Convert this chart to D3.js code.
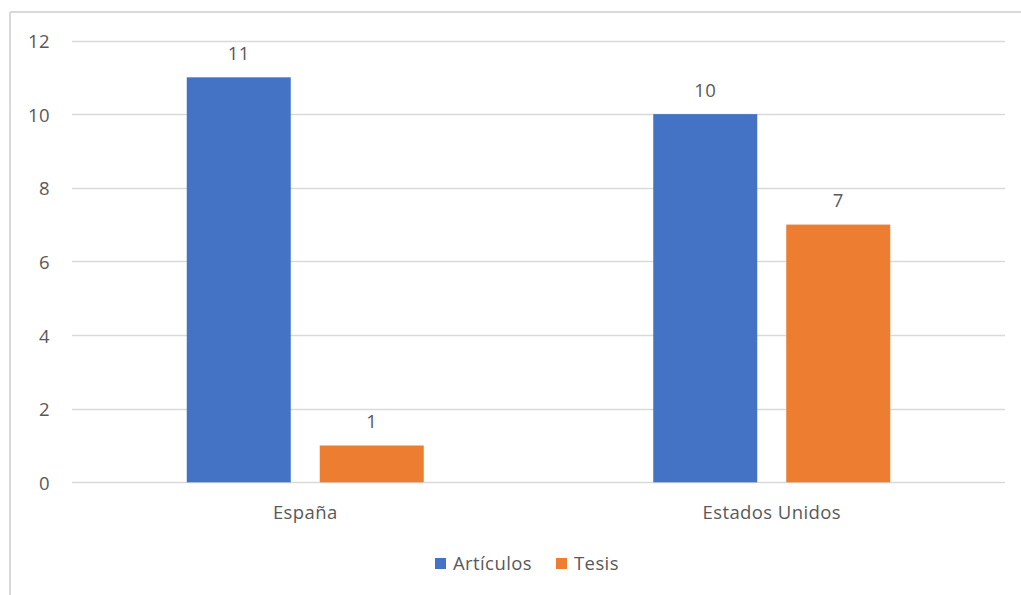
<!DOCTYPE html>
<html><head><meta charset="utf-8">
<script src="https://cdn.jsdelivr.net/npm/d3@7"></script>
<style>body{margin:0;background:#fff}svg{display:block}text{font-family:"Open Sans","Noto Sans",sans-serif;fill:#595959;letter-spacing:0.4px}</style>
</head><body>
<script>
const categories = ["España", "Estados Unidos"];
const seriesNames = ["Artículos", "Tesis"];
const articulos = [11, 10];
const tesis = [1, 7];
const yTicks = [0, 2, 4, 6, 8, 10, 12];
const colors = ["#4472C4", "#ED7D31"];

(function(){
const W = 1021, H = 595;
const FS = 18.5;
const svg = d3.select("body").append("svg").attr("width", W).attr("height", H);

// frame (left & top edges visible)
svg.append("line").attr("x1",10).attr("x2",10).attr("y1",12).attr("y2",H).attr("stroke","#d9d9d9").attr("stroke-width",2);
svg.append("line").attr("x1",10).attr("x2",W).attr("y1",12).attr("y2",12).attr("stroke","#d9d9d9").attr("stroke-width",2);

const mLeft = 72, mRight = 1005, mTop = 40.5, mBottom = 482.3;
const y = d3.scaleLinear().domain([0, 12]).range([mBottom, mTop]);
const x0 = d3.scaleBand().domain(categories).range([mLeft, mRight]).padding(0);
const groupW = 237;
const x1 = d3.scaleBand().domain(seriesNames)
  .range([(x0.bandwidth()-groupW)/2, (x0.bandwidth()+groupW)/2]).paddingInner(0.218).paddingOuter(0);

// gridlines
svg.append("g").selectAll("line").data(yTicks).join("line")
  .attr("x1", mLeft).attr("x2", mRight)
  .attr("y1", d => Math.round(y(d))+0.5).attr("y2", d => Math.round(y(d))+0.5)
  .attr("stroke", "#d9d9d9").attr("stroke-width", 1.3);

// y labels
svg.append("g").selectAll("text").data(yTicks).join("text")
  .attr("x", 50).attr("y", d => y(d) + 1).attr("dy", "0.35em")
  .attr("text-anchor", "end").attr("font-size", FS).text(d => d);

const data = categories.map((c, i) => ({cat: c, vals: [articulos[i], tesis[i]]}));
const groups = svg.append("g").selectAll("g").data(data).join("g")
  .attr("transform", d => `translate(${x0(d.cat)},0)`);
groups.selectAll("rect").data(d => d.vals.map((v, j) => ({s: seriesNames[j], v, j}))).join("rect")
  .attr("x", d => x1(d.s)).attr("width", x1.bandwidth())
  .attr("y", d => y(d.v)).attr("height", d => y(0) - y(d.v))
  .attr("fill", d => colors[d.j]);
groups.selectAll("text").data(d => d.vals.map((v, j) => ({s: seriesNames[j], v, j}))).join("text")
  .attr("x", d => x1(d.s) + x1.bandwidth()/2).attr("y", d => y(d.v) - 24).attr("dy", "0.35em")
  .attr("text-anchor", "middle").attr("font-size", FS).text(d => d.v);

// category labels
svg.append("g").selectAll("text").data(categories).join("text")
  .attr("x", d => x0(d) + x0.bandwidth()/2).attr("y", 513).attr("dy", "0.35em")
  .attr("text-anchor", "middle").attr("font-size", FS).text(d => d);

// legend
const legX = [435, 556];
const leg = svg.append("g").selectAll("g").data(seriesNames).join("g")
  .attr("transform", (d, i) => `translate(${legX[i]},558)`);
leg.append("rect").attr("width", 11).attr("height", 11).attr("fill", (d, i) => colors[i]);
leg.append("text").attr("x", 18).attr("y", 6).attr("dy", "0.35em").attr("font-size", FS).text(d => d);
})();
</script>
</body></html>
